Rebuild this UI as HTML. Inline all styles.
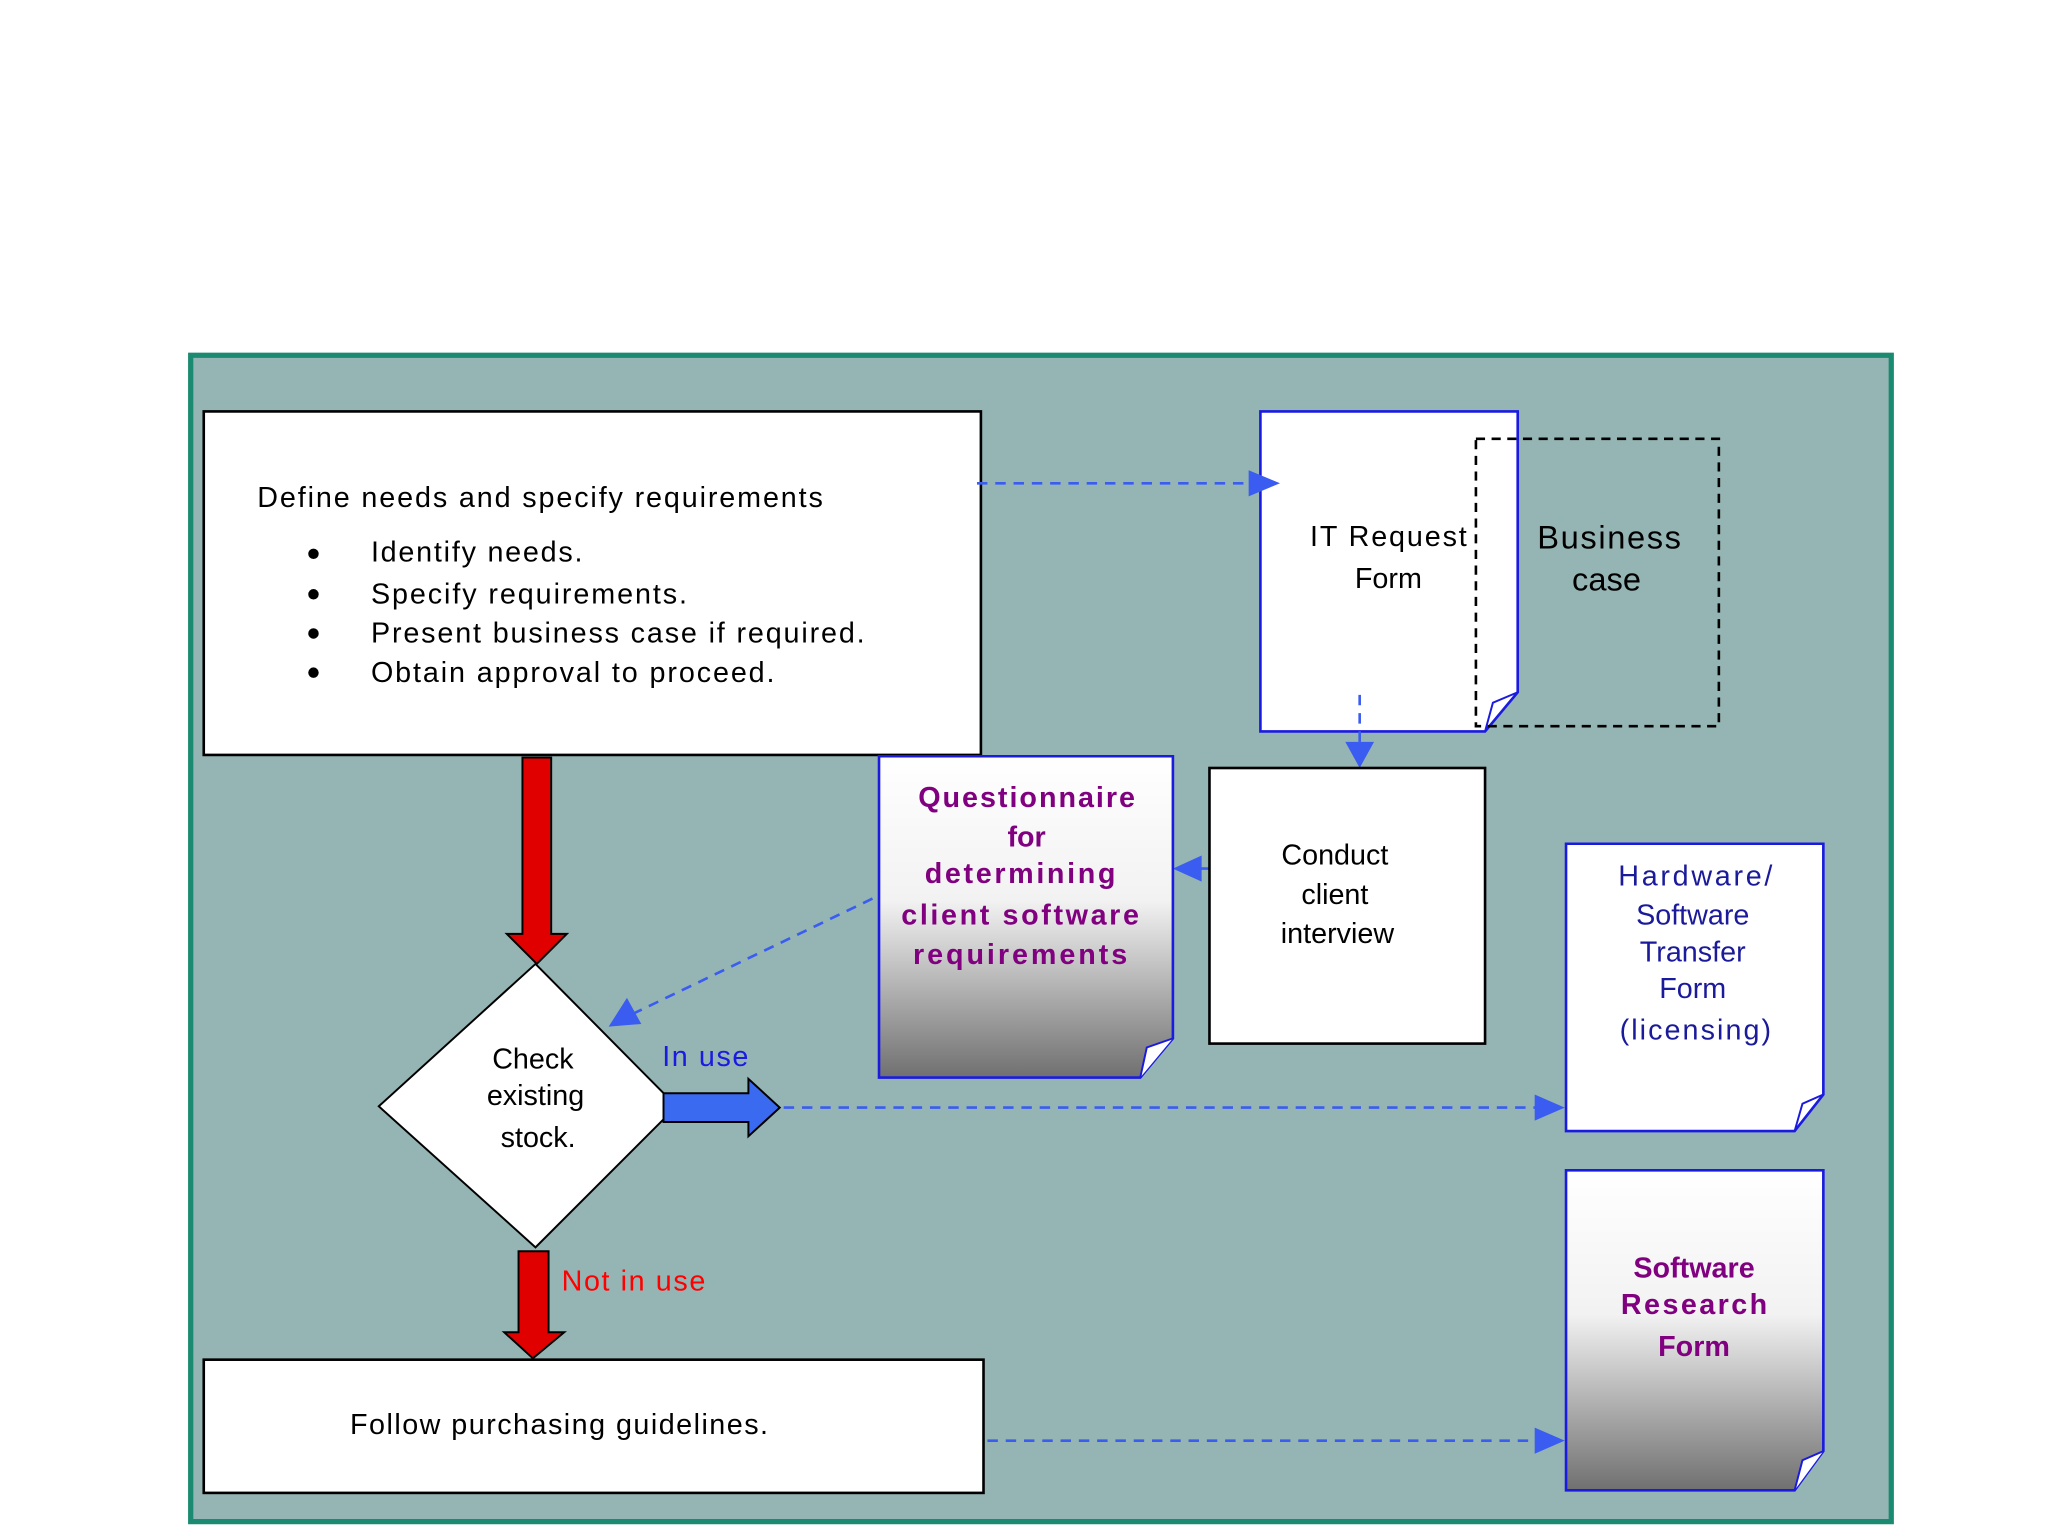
<!DOCTYPE html>
<html><head><meta charset="utf-8"><style>
html,body{margin:0;padding:0;background:#fff;}
svg{display:block;}
text{font-family:"Liberation Sans",Arial,sans-serif;}
</style></head><body>
<svg width="2048" height="1536" viewBox="0 0 1568 1176" xmlns="http://www.w3.org/2000/svg">
<defs>
<linearGradient id="g" x1="0" y1="0" x2="0" y2="1">
<stop offset="0" stop-color="#ffffff"/><stop offset="0.45" stop-color="#f2f2f2"/><stop offset="1" stop-color="#707070"/>
</linearGradient>
</defs>
<rect x="0" y="0" width="1568" height="1176" fill="#fff"/>
<rect x="146" y="272" width="1302" height="893" fill="#95b5b4" stroke="#1a8a70" stroke-width="4"/>

<rect x="156" y="315" width="595" height="263" fill="#fff" stroke="#000" stroke-width="2"/>
<g font-size="22" fill="#000" lengthAdjust="spacing">
<text x="197" y="388" textLength="433" lengthAdjust="spacing">Define needs and specify requirements</text>
<text x="284" y="430" textLength="162" lengthAdjust="spacing">Identify needs.</text>
<text x="284" y="462" textLength="242" lengthAdjust="spacing">Specify requirements.</text>
<text x="284" y="492" textLength="378" lengthAdjust="spacing">Present business case if required.</text>
<text x="284" y="522" textLength="309" lengthAdjust="spacing">Obtain approval to proceed.</text>
</g>
<g fill="#000"><circle cx="240" cy="424" r="4"/><circle cx="240" cy="455" r="4"/><circle cx="240" cy="485" r="4"/><circle cx="240" cy="515" r="4"/></g>

<path d="M965 315 H1162 V530 L1137 560 H965 Z" fill="#fff" stroke="#1a1ae0" stroke-width="2"/>
<path d="M1137 560 L1143 538 L1162 530" fill="none" stroke="#1a1ae0" stroke-width="1.5"/>
<g font-size="22" fill="#000" text-anchor="middle"><text x="1063" y="418" textLength="120" lengthAdjust="spacing">IT Request</text><text x="1063" y="450">Form</text></g>
<rect x="1130" y="336" width="186" height="220" fill="none" stroke="#000" stroke-width="2" stroke-dasharray="7,5"/>
<g font-size="25" fill="#000" text-anchor="middle"><text x="1232" y="420" textLength="110" lengthAdjust="spacing">Business</text><text x="1230" y="452">case</text></g>

<g stroke="#3a5cf0" stroke-width="2" stroke-dasharray="8,6" fill="none">
<line x1="748" y1="370" x2="960" y2="370"/>
<line x1="1041" y1="532" x2="1041" y2="570"/>
<line x1="955" y1="665" x2="918" y2="665"/>
<line x1="668" y1="688" x2="485" y2="776"/>
<line x1="600" y1="848" x2="1178" y2="848"/>
<line x1="756" y1="1103" x2="1178" y2="1103"/>
</g>
<g fill="#3a5cf0">
<polygon points="980,370 956,360 956,380"/>
<polygon points="1041,588 1030,568 1052,568"/>
<polygon points="898,665 920,655 920,675"/>
<polygon points="466,786 480,764 491,784"/>
<polygon points="1198,848 1175,838 1175,858"/>
<polygon points="1198,1103 1175,1093 1175,1113"/>
</g>

<rect x="926" y="588" width="211" height="211" fill="#fff" stroke="#000" stroke-width="2"/>
<g font-size="22" fill="#000" text-anchor="middle"><text x="1022" y="662">Conduct</text><text x="1022" y="692">client</text><text x="1024" y="722">interview</text></g>

<path d="M673 579 H898 V795 L873 825 H673 Z" fill="url(#g)" stroke="#1a1ae0" stroke-width="2"/>
<path d="M873 825 L878 802 L898 795" fill="#fff" stroke="#1a1ae0" stroke-width="1.5"/>
<g font-size="22" font-weight="bold" fill="#800080" text-anchor="middle">
<text x="786" y="618" textLength="166" lengthAdjust="spacing">Questionnaire</text><text x="786" y="648">for</text><text x="781" y="676" textLength="146" lengthAdjust="spacing">determining</text><text x="781" y="708" textLength="182" lengthAdjust="spacing">client software</text><text x="781" y="738" textLength="164" lengthAdjust="spacing">requirements</text></g>

<polygon points="400,580 422,580 422,715 434,715 411,738 388,715 400,715" fill="#e00000" stroke="#000" stroke-width="1.5"/>

<polygon points="410,738 518,847 410,955 290,847" fill="#fff" stroke="#000" stroke-width="1.5"/>
<g font-size="22" fill="#000" text-anchor="middle"><text x="408" y="818">Check</text><text x="410" y="846">existing</text><text x="412" y="878">stock.</text></g>

<text x="507" y="816" font-size="22" fill="#1a1ae0" textLength="66" lengthAdjust="spacing">In use</text>
<polygon points="508,837 573,837 573,826 597,848 573,870 573,859 508,859" fill="#3a6af0" stroke="#000" stroke-width="1.5"/>

<path d="M1199 646 H1396 V838 L1374 866 H1199 Z" fill="#fff" stroke="#1a1ae0" stroke-width="2"/>
<path d="M1374 866 L1380 845 L1396 838" fill="none" stroke="#1a1ae0" stroke-width="1.5"/>
<g font-size="22" fill="#1a1a9a" text-anchor="middle"><text x="1298" y="678" textLength="118" lengthAdjust="spacing">Hardware/</text><text x="1296" y="708">Software</text><text x="1296" y="736">Transfer</text><text x="1296" y="764">Form</text><text x="1298" y="796" textLength="116" lengthAdjust="spacing">(licensing)</text></g>

<polygon points="397,958 420,958 420,1020 432,1020 408,1040 386,1020 397,1020" fill="#e00000" stroke="#000" stroke-width="1.5"/>
<text x="430" y="988" font-size="22" fill="#ff0000" textLength="110" lengthAdjust="spacing">Not in use</text>

<rect x="156" y="1041" width="597" height="102" fill="#fff" stroke="#000" stroke-width="2"/>
<text x="268" y="1098" font-size="22" fill="#000" textLength="320" lengthAdjust="spacing">Follow purchasing guidelines.</text>

<path d="M1199 896 H1396 V1111 L1374 1141 H1199 Z" fill="url(#g)" stroke="#1a1ae0" stroke-width="2"/>
<path d="M1374 1141 L1380 1118 L1396 1111" fill="#fff" stroke="#1a1ae0" stroke-width="1.5"/>
<g font-size="22" font-weight="bold" fill="#800080" text-anchor="middle"><text x="1297" y="978">Software</text><text x="1297" y="1006" textLength="112" lengthAdjust="spacing">Research</text><text x="1297" y="1038">Form</text></g>
</svg>
</body></html>
